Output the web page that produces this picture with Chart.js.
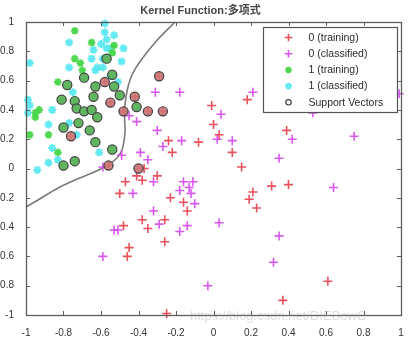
<!DOCTYPE html>
<html>
<head>
<meta charset="utf-8">
<script src="https://cdn.jsdelivr.net/npm/chart.js@4.4.0/dist/chart.umd.min.js"></script>
<style>
  html, body { margin: 0; padding: 0; background: #ffffff; }
  #wrap { width: 409px; height: 337px; }
</style>
</head>
<body>
<div id="wrap"><canvas id="c" width="409" height="337"></canvas></div>
<script>
// ---- chart text ----
const titleText = 'Kernel Function:多项式';
const legendLabels = ['0 (training)', '0 (classified)', '1 (training)', '1 (classified)', 'Support Vectors'];
const xTickLabels = ['-1', '-0.8', '-0.6', '-0.4', '-0.2', '0', '0.2', '0.4', '0.6', '0.8', '1'];
const yTickLabels = ['-1', '-0.8', '-0.6', '-0.4', '-0.2', '0', '0.2', '0.4', '0.6', '0.8', '1'];
const watermarkText = 'https://blog.csdn.net/DIEBowC';

// ---- class 0, training samples (not support vectors) ----
const train0Pts = [
  [0.18, 0.47], [0.10, 0.11], [0.15, 0.01], [0.39, 0.26], [0.31, -0.12], [0.40, -0.11],
  [0.21, -0.16], [0.19, -0.21], [0.23, -0.27], [0.61, -0.77], [0.37, -0.90], [-0.22, 0.11],
  [-0.37, 0.00], [-0.47, -0.09], [-0.41, -0.05], [-0.38, -0.08], [-0.30, -0.05], [-0.50, -0.17],
  [-0.23, -0.20], [-0.16, -0.23], [-0.14, -0.29], [-0.38, -0.35], [-0.26, -0.35], [-0.35, -0.41],
  [-0.48, -0.39], [-0.26, -0.50], [-0.45, -0.54], [-0.46, -0.60], [-0.25, -0.99], [-0.01, 0.43],
  [0.00, 0.30], [0.03, 0.23], [-0.08, 0.18], [-0.24, 0.19]
];
// ---- class 0, training samples that are support vectors ----
const train0SvPts = [
  [-0.29, 0.63], [-0.42, 0.49], [-0.55, 0.45], [-0.48, 0.39], [-0.35, 0.39],
  [-0.27, 0.39], [-0.58, 0.59], [-0.76, 0.22], [-0.56, 0.02], [-0.40, 0.00]
];
// ---- class 0, classified samples ----
const class0Pts = [
  [0.21, 0.52], [0.10, 0.19], [0.42, 0.20], [0.75, 0.22], [0.53, 0.38], [0.99, 0.51],
  [0.35, 0.07], [0.64, -0.13], [0.35, -0.46], [0.32, -0.64], [-0.49, 0.09], [-0.39, 0.11],
  [-0.35, 0.06], [-0.32, -0.09], [-0.43, -0.17], [-0.16, -0.09], [-0.11, -0.09], [-0.18, -0.15],
  [-0.13, -0.13], [-0.12, -0.17], [-0.10, -0.24], [-0.32, -0.29], [-0.29, -0.38], [-0.18, -0.43],
  [-0.14, -0.39], [0.03, -0.37], [-0.53, -0.42], [-0.51, -0.42], [-0.59, -0.60], [-0.03, -0.80],
  [-0.31, 0.52], [-0.18, 0.52], [-0.41, 0.32], [-0.30, 0.26], [0.04, 0.37], [0.02, 0.20],
  [-0.17, 0.19], [-0.27, 0.15], [-0.59, 0.01], [-0.45, 0.36]
];
// ---- class 1, training samples (not support vectors) ----
const train1Pts = [
  [-0.74, 0.94], [-0.65, 0.86], [-0.53, 0.84], [-0.54, 0.79], [-0.74, 0.75], [-0.71, 0.72],
  [-0.70, 0.67], [-0.83, 0.59], [-0.93, 0.40], [-0.95, 0.38], [-0.98, 0.23], [-0.88, 0.23],
  [-0.83, 0.11], [-0.95, 0.35]
];
// ---- class 1, training samples that are support vectors ----
const train1SvPts = [
  [-0.57, 0.75], [-0.54, 0.64], [-0.78, 0.57], [-0.69, 0.62], [-0.63, 0.56], [-0.53, 0.56],
  [-0.50, 0.50], [-0.41, 0.42], [-0.81, 0.47], [-0.74, 0.46], [-0.73, 0.41], [-0.69, 0.39],
  [-0.65, 0.40], [-0.64, 0.49], [-0.62, 0.35], [-0.72, 0.31], [-0.80, 0.28], [-0.66, 0.26],
  [-0.63, 0.18], [-0.54, 0.13], [-0.80, 0.02], [-0.74, 0.05]
];
// ---- class 1, classified samples ----
const class1Pts = [
  [-0.58, 0.99], [-0.58, 0.93], [-0.57, 0.88], [-0.60, 0.85], [-0.57, 0.82], [-0.77, 0.86],
  [-0.53, 0.91], [-0.64, 0.81], [-0.48, 0.82], [-0.55, 0.82], [-0.65, 0.75], [-0.59, 0.75],
  [-0.49, 0.73], [-0.98, 0.72], [-0.77, 0.69], [-0.62, 0.69], [-0.63, 0.67], [-0.59, 0.69],
  [-0.99, 0.47], [-0.98, 0.43], [-0.99, 0.38], [-0.86, 0.40], [-0.88, 0.30], [-0.86, 0.14],
  [-0.83, 0.06], [-0.88, 0.04], [-0.94, -0.01], [-0.73, 0.23], [-0.77, 0.31], [-0.61, 0.11],
  [-0.55, 0.63], [-0.51, 0.59], [-0.75, 0.52]
];
// ---- separating boundary ----
const boundaryX = [-0.205, -0.30, -0.39, -0.435, -0.46, -0.472, -0.474, -0.472, -0.488, -0.515, -0.563, -0.648, -0.739, -0.829, -0.936, -1.0];
const boundaryY = [1.0, 0.877, 0.734, 0.638, 0.536, 0.433, 0.331, 0.242, 0.126, 0.072, 0.024, -0.031, -0.078, -0.133, -0.215, -0.263];

const toXY = arr => arr.map(p => ({ x: p[0], y: p[1] }));
const FONT = "'Liberation Sans', Arial, 'Noto Sans CJK SC', sans-serif";

// marker styles shared by plot and legend
const styles = [
  { pointStyle: 'cross', radius: 4.5, borderWidth: 1.6, stroke: 'rgba(232,72,84,0.95)', fill: 'rgba(232,72,84,0.95)' },
  { pointStyle: 'cross', radius: 4.5, borderWidth: 1.6, stroke: 'rgba(214,78,238,0.95)', fill: 'rgba(214,78,238,0.95)' },
  { pointStyle: 'star', radius: 3.8, borderWidth: 2.0, stroke: 'rgba(70,214,70,0.95)', fill: 'rgba(70,214,70,0.95)' },
  { pointStyle: 'star', radius: 4.0, borderWidth: 2.0, stroke: 'rgba(90,232,240,0.95)', fill: 'rgba(90,232,240,0.95)' },
  { pointStyle: 'circle', radius: 3.2, borderWidth: 1.2, stroke: '#444444', fill: 'rgba(0,0,0,0)' }
];

function scatterSet(label, pts, st, order) {
  return {
    label, data: toXY(pts), order, clip: false,
    pointStyle: st.pointStyle, pointRadius: st.radius, pointBorderWidth: st.borderWidth,
    pointBorderColor: st.stroke, pointBackgroundColor: st.fill,
    pointHoverRadius: st.radius, showLine: false
  };
}

const svSet = (label, pts, fill) => ({
  label, data: toXY(pts), order: 1, clip: false,
  pointStyle: 'circle', pointRadius: 4.6, pointBorderWidth: 1.2,
  pointBorderColor: '#404040', pointBackgroundColor: fill, showLine: false
});

// inward tick marks and box frame around the plotting area
const framePlugin = {
  id: 'frame',
  afterDatasetsDraw(chart) {
    const { ctx, chartArea: a, scales: { x, y } } = chart;
    ctx.save();
    ctx.strokeStyle = '#5c5c5c';
    ctx.lineWidth = 1;
    const L = 4;
    x.ticks.forEach(t => {
      const px = Math.round(x.getPixelForValue(t.value)) + 0.5;
      ctx.beginPath();
      ctx.moveTo(px, a.bottom); ctx.lineTo(px, a.bottom - L);
      ctx.moveTo(px, a.top); ctx.lineTo(px, a.top + L);
      ctx.stroke();
    });
    y.ticks.forEach(t => {
      const py = Math.round(y.getPixelForValue(t.value)) + 0.5;
      ctx.beginPath();
      ctx.moveTo(a.left, py); ctx.lineTo(a.left + L, py);
      ctx.moveTo(a.right, py); ctx.lineTo(a.right - L, py);
      ctx.stroke();
    });
    ctx.lineWidth = 1.3;
    ctx.strokeRect(Math.round(a.left) + 0.5, Math.round(a.top) + 0.5,
      Math.round(a.right - a.left), Math.round(a.bottom - a.top));
    ctx.restore();
  }
};

// boxed legend placed in the upper right corner of the plot
const legendBoxPlugin = {
  id: 'legendBox',
  afterDraw(chart) {
    const { ctx, chartArea: a } = chart;
    const w = 134, h = 85;
    const left = Math.round(a.right - w - 4) + 0.5, top = Math.round(a.top + 5) + 0.5;
    ctx.save();
    ctx.fillStyle = '#ffffff';
    ctx.fillRect(left, top, w, h);
    ctx.strokeStyle = '#555555';
    ctx.lineWidth = 1.2;
    ctx.strokeRect(left, top, w, h);
    ctx.font = '10.5px ' + FONT;
    ctx.textBaseline = 'middle';
    ctx.textAlign = 'left';
    legendLabels.forEach((lab, i) => {
      const cy = top + 10 + i * 16.2;
      const st = styles[i];
      ctx.strokeStyle = st.stroke;
      ctx.fillStyle = st.fill;
      ctx.lineWidth = st.borderWidth;
      Chart.helpers.drawPoint(ctx, { pointStyle: st.pointStyle, radius: st.radius * 0.85, rotation: 0, borderWidth: st.borderWidth }, left + 25, cy);
      ctx.fillStyle = '#2a2a2a';
      ctx.fillText(lab, left + 45, cy + 0.5);
    });
    // faint site watermark along the bottom edge
    ctx.font = '13px ' + FONT;
    ctx.fillStyle = 'rgba(160,160,160,0.35)';
    ctx.textAlign = 'left';
    ctx.textBaseline = 'middle';
    ctx.fillText(watermarkText, 190, 316);
    ctx.restore();
  }
};

const boundaryData = boundaryX.map((xv, i) => ({ x: xv, y: boundaryY[i] }));

new Chart(document.getElementById('c'), {
  type: 'scatter',
  data: {
    datasets: [
      svSet('Support Vectors', train1SvPts, 'rgba(96,180,96,0.9)'),
      svSet('Support Vectors (0)', train0SvPts, 'rgba(204,118,118,0.9)'),
      scatterSet(legendLabels[0], train0Pts.concat(train0SvPts), styles[0], 3),
      scatterSet(legendLabels[1], class0Pts, styles[1], 4),
      scatterSet(legendLabels[2], train1Pts.concat(train1SvPts), styles[2], 3),
      scatterSet(legendLabels[3], class1Pts, styles[3], 5),
      {
        label: 'boundary', data: boundaryData, showLine: true, order: 6, clip: false,
        borderColor: '#7a7a7a', borderWidth: 1.6, pointRadius: 0, tension: 0.35, fill: false
      }
    ]
  },
  options: {
    responsive: false,
    animation: false,
    devicePixelRatio: 1,
    layout: { padding: { left: 0, right: 8, top: 0, bottom: 0 } },
    plugins: {
      legend: { display: false },
      tooltip: { enabled: false },
      title: {
        display: true, text: titleText, color: '#454545',
        font: { family: FONT, size: 11, weight: 'bold' },
        padding: { top: 4, bottom: 4.8 }
      }
    },
    scales: {
      x: {
        type: 'linear', min: -1, max: 1,
        grid: { display: false }, border: { display: false },
        ticks: {
          stepSize: 0.2, autoSkip: false, maxRotation: 0, padding: 4,
          color: '#333333', font: { family: FONT, size: 10 },
          callback: (v, i) => xTickLabels[i]
        },
        afterFit: s => { s.height = 22; }
      },
      y: {
        type: 'linear', min: -1, max: 1,
        grid: { display: false }, border: { display: false },
        ticks: {
          stepSize: 0.2, autoSkip: false, padding: 4,
          color: '#333333', font: { family: FONT, size: 10 },
          callback: (v, i) => yTickLabels[i]
        },
        afterFit: s => { s.width = 26; }
      }
    }
  },
  plugins: [framePlugin, legendBoxPlugin]
});
</script>
</body>
</html>
